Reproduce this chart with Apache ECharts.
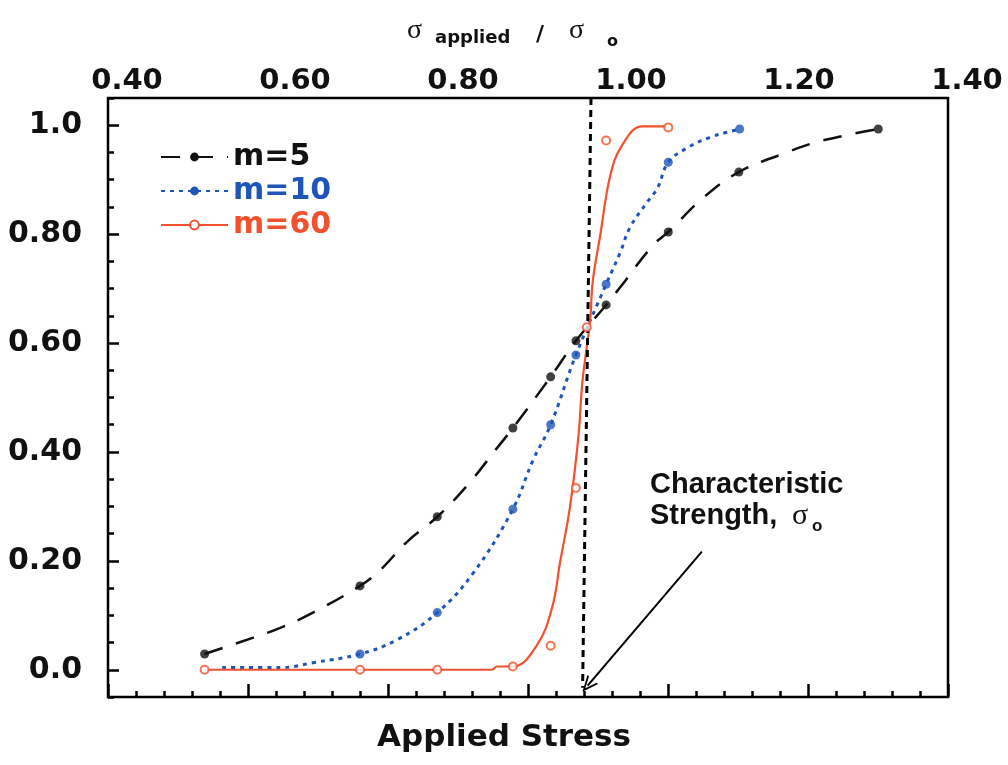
<!DOCTYPE html>
<html>
<head>
<meta charset="utf-8">
<title>Applied Stress</title>
<script src="https://cdn.jsdelivr.net/npm/echarts@6/dist/echarts.min.js"></script>
<style>
  html, body { margin: 0; padding: 0; background: #fff; }
  #chart { width: 1008px; height: 765px; }
</style>
</head>
<body>
<div id="chart"></div>
<script>
// x: sigma applied / sigma o (top scale), y: failure probability
var topTicks = [0.4, 0.6, 0.8, 1.0, 1.2, 1.4];
var probTicks = [0, 0.2, 0.4, 0.6, 0.8, 1.0];

// m=5 curve and points
var m5Line = [[0.515,0.029],[0.573,0.059],[0.605,0.077],[0.644,0.105],[0.700,0.154],[0.724,0.183],[0.756,0.235],
  [0.792,0.281],[0.829,0.341],[0.863,0.407],[0.882,0.444],[0.927,0.538],[0.957,0.604],[0.993,0.670],[1.010,0.703],
  [1.049,0.780],[1.067,0.804],[1.108,0.866],[1.151,0.914],[1.208,0.950],[1.239,0.967],[1.280,0.982],[1.317,0.993]];
var m5Points = [[0.515,0.029],[0.700,0.154],[0.792,0.281],[0.882,0.444],[0.927,0.538],[0.957,0.604],
  [0.993,0.670],[1.067,0.804],[1.151,0.914],[1.317,0.993]];

// m=10
var m10Line = [[0.536,0.004],[0.605,0.004],[0.644,0.013],[0.700,0.029],[0.744,0.055],[0.792,0.105],[0.835,0.178],
  [0.882,0.295],[0.906,0.385],[0.927,0.450],[0.957,0.578],[0.993,0.708],[1.010,0.767],[1.021,0.811],[1.042,0.859],
  [1.054,0.884],[1.067,0.932],[1.089,0.958],[1.117,0.978],[1.137,0.987],[1.152,0.993]];
var m10Points = [[0.700,0.029],[0.792,0.105],[0.882,0.295],[0.927,0.450],[0.957,0.578],[0.993,0.708],
  [1.067,0.932],[1.152,0.993]];

// m=60
var m60Line = [[0.515,0.000],[0.857,0.000],[0.863,0.006],[0.882,0.006],[0.911,0.046],[0.929,0.116],[0.938,0.196],
  [0.950,0.299],[0.960,0.428],[0.965,0.532],[0.974,0.642],[0.977,0.712],[0.986,0.798],[0.998,0.908],[1.012,0.963],
  [1.036,0.998],[1.065,0.998]];
var m60Points = [[0.515,0],[0.700,0],[0.792,0],[0.882,0.006],[0.927,0.044],[0.957,0.334],[0.970,0.629],
  [0.993,0.972],[1.067,0.996]];

// characteristic strength guide and the arrow pointing at it
var sigmaLine = [[0.975, 1.05], [0.965, -0.033]];
var arrowLine = [[1.107, 0.217], [0.971, -0.029]];

var black = '#111111', blue = '#1f55b8', red = '#f2512d';
var boldFont = 'DejaVu Sans';
var arrowHead = 'path://M5,0L10,10L8.6,10L5,2.8L1.4,10L0,10Z';

var chart = echarts.init(document.getElementById('chart'));

function probLabel(v) {
  if (Math.abs(v) < 1e-9) return '0.0';
  if (Math.abs(v - 1) < 1e-9) return '1.0';
  return v.toFixed(2);
}

var tickStyle = { color: '#000', width: 2.5 };

var option = {
  animation: false,
  backgroundColor: '#fff',
  grid: {
    left: 108, right: 60, top: 98, bottom: 68,
    show: true, borderColor: '#000', borderWidth: 2.5,
    outerBoundsMode: 'none'
  },
  legend: {
    orient: 'vertical',
    left: 155, top: 137,
    itemWidth: 67, itemHeight: 11,
    itemGap: 4, itemTextGap: 11,
    selectedMode: false,
    textStyle: { fontFamily: boldFont, fontWeight: 'bold', fontSize: 30 },
    data: [
      { name: 'm=5', textStyle: { color: black } },
      { name: 'm=10', textStyle: { color: blue } },
      { name: 'm=60', textStyle: { color: red } }
    ]
  },
  xAxis: [
    {
      type: 'value', position: 'top',
      min: 0.4, max: 1.4, interval: 0.2,
      axisLine: { show: false, onZero: false }, axisTick: { show: false }, splitLine: { show: false },
      axisLabel: {
        margin: 2, padding: [0, 0, 0, 38],
        fontFamily: boldFont, fontWeight: 'bold', fontSize: 29, color: black,
        showMinLabel: true, showMaxLabel: true,
        formatter: function (v) { return v.toFixed(2); }
      }
    },
    {
      type: 'value', position: 'bottom',
      min: 0, max: 6, interval: 1,
      axisLine: { show: false, onZero: false }, splitLine: { show: false },
      axisLabel: { show: false },
      axisTick: { inside: true, length: 13, lineStyle: tickStyle },
      minorTick: { show: true, splitNumber: 5, length: 6, lineStyle: tickStyle }
    }
  ],
  yAxis: [
    {
      type: 'value', position: 'left',
      min: -0.05, max: 1.05,
      axisLine: { show: false, onZero: false }, splitLine: { show: false },
      axisTick: { inside: true, length: 11, customValues: probTicks, lineStyle: tickStyle },
      axisLabel: {
        customValues: probTicks, margin: 26,
        fontFamily: boldFont, fontWeight: 'bold', fontSize: 30, color: black,
        formatter: probLabel
      }
    },
    {
      type: 'value', position: 'left',
      min: -0.05, max: 1.05, interval: 0.05,
      axisLine: { show: false, onZero: false }, splitLine: { show: false },
      axisLabel: { show: false },
      axisTick: { inside: true, length: 6, lineStyle: tickStyle }
    }
  ],
  series: [
    {
      name: 'm=5', type: 'line', data: m5Line,
      smooth: 0.4, showSymbol: false,
      symbol: 'circle', symbolSize: 9,
      lineStyle: { color: black, width: 2.5, type: [19, 14] },
      itemStyle: { color: black }, z: 3
    },
    {
      name: 'm=10', type: 'line', data: m10Line,
      smooth: 0.4, showSymbol: false,
      symbol: 'circle', symbolSize: 9,
      lineStyle: { color: blue, width: 3, type: [4, 5] },
      itemStyle: { color: blue }, z: 3
    },
    {
      name: 'm=60', type: 'line', data: m60Line,
      smooth: 0.4, showSymbol: false,
      symbol: 'emptyCircle', symbolSize: 8,
      lineStyle: { color: red, width: 2.2 },
      itemStyle: { color: red }, z: 4
    },
    {
      name: 'm=5', type: 'scatter', data: m5Points, symbolSize: 9,
      itemStyle: { color: black }, z: 5
    },
    {
      name: 'm=10', type: 'scatter', data: m10Points, symbolSize: 9,
      itemStyle: { color: blue }, z: 5
    },
    {
      name: 'm=60', type: 'scatter', data: m60Points, symbol: 'circle', symbolSize: 8,
      itemStyle: { color: '#fff', borderColor: red, borderWidth: 2 }, z: 5
    },
    {
      name: 'guide', type: 'scatter', data: [], silent: true,
      markLine: {
        silent: true, animation: false,
        symbol: ['none', 'none'],
        label: { show: false },
        emphasis: { disabled: true },
        data: [
          [
            { coord: sigmaLine[0], lineStyle: { color: '#000', width: 3, type: [7, 5] } },
            { coord: sigmaLine[1] }
          ],
          [
            { coord: arrowLine[0], symbol: 'none', lineStyle: { color: '#000', width: 2, type: 'solid' } },
            { coord: arrowLine[1], symbol: arrowHead, symbolSize: [14, 16] }
          ]
        ]
      }
    }
  ],
  graphic: [
    // top axis title: sigma applied / sigma o
    { type: 'text', left: 407, top: 17, style: { text: 'σ', font: '28px "Liberation Serif"', fill: black } },
    { type: 'text', left: 435, top: 29, style: { text: 'applied', font: 'bold 18px "DejaVu Sans"', fill: black } },
    { type: 'text', left: 536, top: 24, style: { text: '/', font: 'bold 22px "DejaVu Sans"', fill: black } },
    { type: 'text', left: 569, top: 17, style: { text: 'σ', font: '28px "Liberation Serif"', fill: black } },
    { type: 'text', left: 607, top: 34, style: { text: 'o', font: 'bold 16px "DejaVu Sans"', fill: black } },
    // annotation
    { type: 'text', left: 650, top: 470, style: { text: 'Characteristic', font: 'bold 29px "Liberation Sans"', fill: black } },
    { type: 'text', left: 650, top: 501, style: { text: 'Strength,', font: 'bold 29px "Liberation Sans"', fill: black } },
    { type: 'text', left: 792, top: 501, style: { text: 'σ', font: '30px "Liberation Serif"', fill: black } },
    { type: 'text', left: 812, top: 518, style: { text: 'o', font: 'bold 17px "Liberation Sans"', fill: black } },
    // bottom axis name
    { type: 'text', left: 'center', top: 722, style: { text: 'Applied Stress', font: 'bold 31px "DejaVu Sans"', fill: black } }
  ]
};

chart.setOption(option);
</script>
</body>
</html>
